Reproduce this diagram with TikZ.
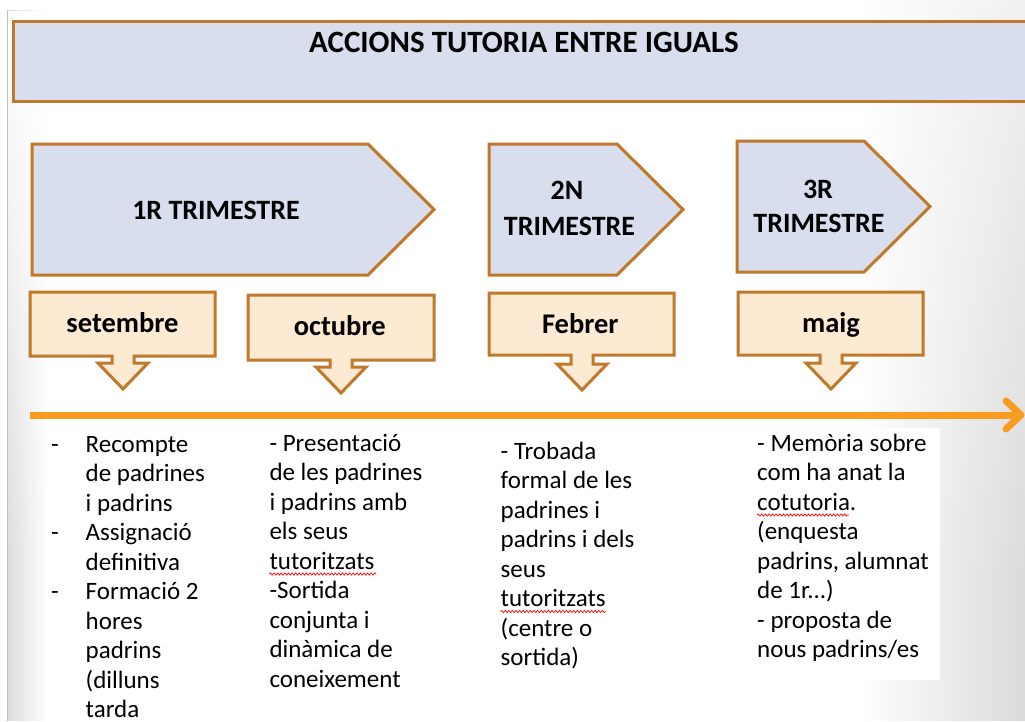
\documentclass[tikz,border=0pt]{standalone}
\usepackage{fontspec}
\setmainfont{Carlito}
\usetikzlibrary{fadings,calc,decorations.pathmorphing}
\definecolor{brd}{HTML}{C0782A}
\definecolor{lav}{HTML}{D8DEEE}
\definecolor{peach}{HTML}{FDEAD2}
\definecolor{orng}{HTML}{F89C20}
\tikzfading[name=fadeToRight, left color=transparent!0, right color=transparent!100]
\tikzfading[name=fadeToLeft, left color=transparent!100, right color=transparent!0]
\tikzfading[name=fadeToBottom, top color=transparent!0, bottom color=transparent!100]
\tikzset{
  frame/.style={draw=brd, line width=3pt, line join=miter},
  pentbox/.style={frame, fill=lav},
  monthbox/.style={frame, fill=peach},
  headtxt/.style={font=\bfseries\fontsize{28}{35}\selectfont, inner sep=0pt, anchor=base},
  monthtxt/.style={font=\bfseries\fontsize{28.5}{32}\selectfont, inner sep=0pt, anchor=base},
  body/.style={font=\fontsize{25}{29.5}\selectfont, align=left, inner sep=0pt, anchor=north west},
  tline/.style={draw=orng, line width=7pt},
  spell/.style={draw=red, line width=0.7pt, decorate, decoration={snake, amplitude=1.1pt, segment length=3.6pt}}
}
\newcommand\firstline{\rule{0pt}{22pt}}
\begin{document}
\begin{tikzpicture}[x=1pt,y=-1pt]
\useasboundingbox (0,0) rectangle (1025,721);
\clip (0,0) rectangle (1025,721);
% background
\fill[white] (0,0) rectangle (1025,721);
\fill[black!13, path fading=fadeToRight] (8,10) rectangle (48,721);
\fill[white, path fading=fadeToBottom] (8,10) rectangle (48,560);
\fill[black!14, path fading=fadeToLeft] (860,0) rectangle (1025,721);
\fill[white, opacity=0.6, path fading=fadeToBottom] (860,0) rectangle (1025,600);
\draw[black!25, line width=1pt] (7.5,10) -- (7.5,721);
% title
\node[frame, fill=lav, anchor=north west, minimum width=1040pt, minimum height=80pt, inner sep=0pt] (titlebox) at (12,20) {};
\node[font=\bfseries\fontsize{31}{36}\selectfont, anchor=base, inner sep=0pt] (titletxt) at (524,52) {ACCIONS TUTORIA ENTRE IGUALS};
% trimester pentagons
\draw[pentbox] (32,144) -- (368,144) -- (434,209.5) -- (368,275) -- (32,275) -- cycle;
\draw[pentbox] (489,144) -- (617,144) -- (683,209.5) -- (617,275) -- (489,275) -- cycle;
\draw[pentbox] (737,141) -- (864,141) -- (930,206.5) -- (864,272) -- (737,272) -- cycle;
\node[headtxt] (t1) at (216,219.3) {1R TRIMESTRE};
\node[headtxt] (t2a) at (567,199) {2N};
\node[headtxt] (t2b) at (569.5,235) {TRIMESTRE};
\node[headtxt] (t3a) at (818,198) {3R};
\node[headtxt] (t3b) at (819,232) {TRIMESTRE};
% month callouts
\draw[monthbox] (30,292) -- (215,292) -- (215,356) -- (134,356) -- (134,363) -- (148,363) -- (123,389) -- (98,363) -- (112,363) -- (112,356) -- (30,356) -- cycle;
\draw[monthbox] (248,295) -- (434,295) -- (434,360) -- (352,360) -- (352,367) -- (366,367) -- (341,393) -- (316,367) -- (330,367) -- (330,360) -- (248,360) -- cycle;
\draw[monthbox] (489,293) -- (674,293) -- (674,355) -- (593,355) -- (593,364) -- (607,364) -- (582,390) -- (557,364) -- (571,364) -- (571,355) -- (489,355) -- cycle;
\draw[monthbox] (738,292) -- (923,292) -- (923,355) -- (842,355) -- (842,363) -- (856,363) -- (831,389) -- (806,363) -- (820,363) -- (820,355) -- (738,355) -- cycle;
\node[monthtxt] (m1) at (122.5,332.7) {setembre};
\node[monthtxt] (m2) at (339.7,335) {octubre};
\node[monthtxt] (m3) at (580.3,333.3) {Febrer};
\node[monthtxt] (m4) at (831,332.7) {maig};
% timeline
\coordinate (tl0) at (30,415);
\coordinate (tl1) at (1021,415);
\coordinate (tlA) at (1006,401);
\coordinate (tlB) at (1006,429);
\draw[tline] (tl0) -- (tl1);
\draw[tline, line cap=round, line join=round] (tlA) -- (tl1) -- (tlB);
% text columns
\fill[white] (750,428) rectangle (940,680);
\node[body] (c1) at (51,430) {\firstline\makebox[34.5pt][l]{-}Recompte\\
\hspace*{34.5pt}de padrines\\
\hspace*{34.5pt}i padrins\\
\makebox[34.5pt][l]{-}Assignació\\
\hspace*{34.5pt}definitiva\\
\makebox[34.5pt][l]{-}Formació 2\\
\hspace*{34.5pt}hores\\
\hspace*{34.5pt}padrins\\
\hspace*{34.5pt}(dilluns\\
\hspace*{34.5pt}tarda};
\node[body] (c2) at (269.3,429) {\firstline- Presentació\\
de les padrines\\
i padrins amb\\
els seus\\
tutoritzats\\
-Sortida\\
conjunta i\\
dinàmica de\\
coneixement};
\node[body] (c3) at (500.5,437) {\firstline- Trobada\\
formal de les\\
padrines i\\
padrins i dels\\
seus\\
tutoritzats\\
(centre o\\
sortida)};
\node[body] (c4) at (757,429) {\firstline- Memòria sobre\\
com ha anat la\\
cotutoria.\\
(enquesta\\
padrins, alumnat\\
de 1r...)\\
- proposta de\\
nous padrins/es};
% spelling marks
\coordinate (s2) at ($(c2.north west)+(0,22+4*29.5+5)$);
\coordinate (s3) at ($(c3.north west)+(0,22+5*29.5+5)$);
\coordinate (s4) at ($(c4.north west)+(0,22+2*29.5+5)$);
\draw[spell] (s2) -- ++(107,0);
\draw[spell] (s3) -- ++(105,0);
\draw[spell] (s4) -- ++(92,0);
\end{tikzpicture}
\end{document}
